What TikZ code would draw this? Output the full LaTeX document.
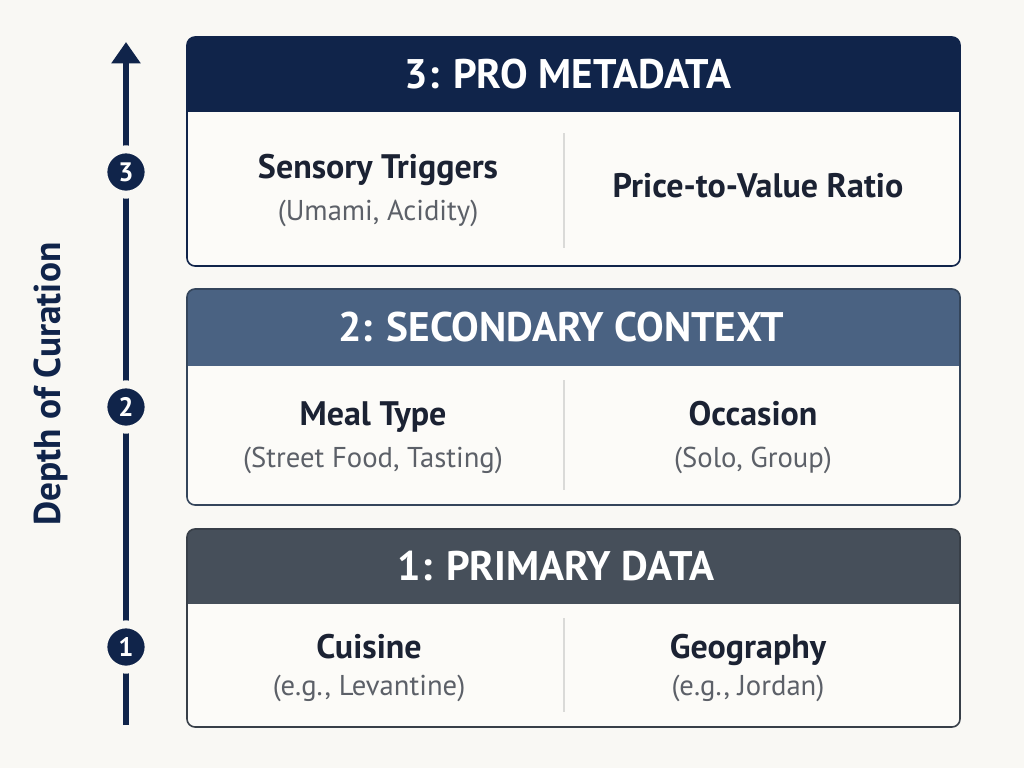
\documentclass[tikz,border=0pt]{standalone}
\usepackage{fontspec}
\setmainfont{PT Sans}
\usetikzlibrary{arrows.meta}

\definecolor{bgc}{HTML}{F9F8F4}
\definecolor{bodyc}{HTML}{FCFBF8}
\definecolor{navy}{HTML}{10244A}
\definecolor{slate}{HTML}{4A6282}
\definecolor{charcoal}{HTML}{464F5A}
\definecolor{titlec}{HTML}{1B2233}
\definecolor{subc}{HTML}{5C6068}
\definecolor{divc}{HTML}{DADAD8}

\tikzset{
  hdr/.style={anchor=base, text=white, font=\bfseries\fontsize{31}{35}\selectfont},
  ttl/.style={anchor=base, text=titlec, font=\bfseries\fontsize{25.5}{29}\selectfont},
  sub/.style={anchor=base, text=subc, font=\fontsize{21.5}{25}\selectfont},
  lvl/.style={circle, fill=navy, draw=bgc, line width=6pt, inner sep=0pt,
    minimum size=34pt, text=white, font=\bfseries\fontsize{20}{22}\selectfont},
  divider/.style={draw=divc, line width=1.5pt},
}

\begin{document}
\begin{tikzpicture}[x=0.75pt,y=-0.75pt]
    % Fondo
    \fill[bgc] (0,0) rectangle (1024,768);
    \useasboundingbox (0,0) rectangle (1024,768);

    % Panel 3
    \begin{scope}
      \clip[rounded corners=6pt] (187,37) rectangle (960,266);
      \fill[bodyc] (187,37) rectangle (960,266);
      \fill[navy] (187,37) rectangle (960,112);
    \end{scope}
    \draw[navy, line width=1.2pt, rounded corners=6pt] (187,37) rectangle (960,266);
    \draw[divider] (564,133) -- (564,248);

    % Panel 2
    \begin{scope}
      \clip[rounded corners=6pt] (187,289) rectangle (960,505);
      \fill[bodyc] (187,289) rectangle (960,505);
      \fill[slate] (187,289) rectangle (960,366);
    \end{scope}
    \draw[slate!70!black, line width=1.2pt, rounded corners=6pt] (187,289) rectangle (960,505);
    \draw[divider] (564,380) -- (564,490);

    % Panel 1
    \begin{scope}
      \clip[rounded corners=6pt] (187,529) rectangle (960,727);
      \fill[bodyc] (187,529) rectangle (960,727);
      \fill[charcoal] (187,529) rectangle (960,604);
    \end{scope}
    \draw[charcoal!80!black, line width=1.2pt, rounded corners=6pt] (187,529) rectangle (960,727);
    \draw[divider] (564,618) -- (564,712);

    % Encabezados
    \node[hdr] (h3) at (568,88) {3: PRO METADATA};
    \node[hdr] (h2) at (561,341) {2: SECONDARY CONTEXT};
    \node[hdr] (h1) at (556,580) {1: PRIMARY DATA};

    % Contenido
    \node[ttl] (sens) at (378,178) {Sensory Triggers};
    \node[sub] (sensx) at (378,220) {(Umami, Acidity)};
    \node[ttl] (price) at (758,197) {Price-to-Value Ratio};
    \node[ttl] (meal) at (373,425) {Meal Type};
    \node[sub] (mealx) at (373,467) {(Street Food, Tasting)};
    \node[ttl] (occ) at (753,425) {Occasion};
    \node[sub] (occx) at (753,467) {(Solo, Group)};
    \node[ttl] (cuis) at (369,658) {Cuisine};
    \node[sub] (cuisx) at (369,695) {(e.g., Levantine)};
    \node[ttl] (geo) at (748,658) {Geography};
    \node[sub] (geox) at (748,695) {(e.g., Jordan)};

    % Eje de profundidad
    \coordinate (base) at (126,725);
    \coordinate (tip) at (126,42);
    \draw[navy, line width=4.5pt, -{Triangle[width=21pt,length=16pt]}] (base) -- (tip);
    \node[lvl] (n3) at (126,172) {3};
    \node[lvl] (n2) at (126,407) {2};
    \node[lvl] (n1) at (126,647) {1};
    \node[rotate=90, text=navy, font=\bfseries\fontsize{28}{32}\selectfont] (depth) at (51,384) {Depth of Curation};
\end{tikzpicture}
\end{document}
